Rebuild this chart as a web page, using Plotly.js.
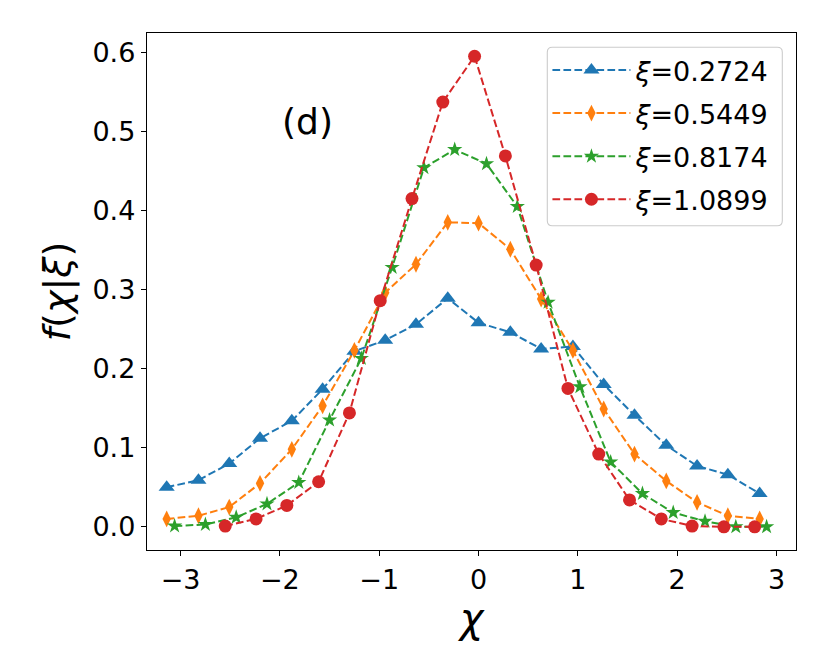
<!DOCTYPE html>
<html>
<head>
<meta charset="utf-8">
<script src="https://cdn.plot.ly/plotly-3.0.1.min.js"></script>
<style>html,body{margin:0;padding:0;background:#fff;}#chart{width:830px;height:664px;}</style>
</head>
<body>
<div id="chart"></div>
<script>
// series labels
const seriesNames = ['<i>ξ</i>=0.2724', '<i>ξ</i>=0.5449', '<i>ξ</i>=0.8174', '<i>ξ</i>=1.0899'];

// chi values (x) per series
const chiBlue   = [-3.14, -2.82, -2.51, -2.20, -1.88, -1.57, -1.25, -0.94, -0.63, -0.31, 0.00, 0.32, 0.63, 0.95, 1.26, 1.57, 1.89, 2.20, 2.51, 2.83];
const chiOrange = [-3.14, -2.82, -2.51, -2.20, -1.88, -1.57, -1.25, -0.94, -0.63, -0.31, 0.00, 0.32, 0.63, 0.95, 1.26, 1.57, 1.89, 2.20, 2.51, 2.83];
const chiGreen  = [-3.06, -2.75, -2.44, -2.13, -1.81, -1.50, -1.18, -0.87, -0.55, -0.24, 0.08, 0.39, 0.70, 1.02, 1.33, 1.65, 1.96, 2.28, 2.59, 2.90];
const chiRed    = [-2.55, -2.24, -1.93, -1.61, -1.30, -0.99, -0.67, -0.36, -0.04, 0.27, 0.58, 0.90, 1.21, 1.52, 1.84, 2.15, 2.47, 2.78];

// f(chi|xi) values per series
const fBlue   = [0.050, 0.059, 0.080, 0.112, 0.134, 0.174, 0.222, 0.236, 0.256, 0.289, 0.258, 0.246, 0.225, 0.228, 0.180, 0.141, 0.103, 0.077, 0.066, 0.042];
const fOrange = [0.010, 0.014, 0.025, 0.055, 0.098, 0.153, 0.223, 0.296, 0.332, 0.385, 0.384, 0.351, 0.288, 0.223, 0.149, 0.092, 0.058, 0.031, 0.014, 0.010];
const fGreen  = [0.001, 0.003, 0.012, 0.029, 0.056, 0.135, 0.213, 0.328, 0.454, 0.477, 0.459, 0.405, 0.284, 0.177, 0.082, 0.042, 0.018, 0.007, 0.000, 0.000];
const fRed    = [0.001, 0.010, 0.027, 0.057, 0.144, 0.286, 0.415, 0.537, 0.595, 0.469, 0.331, 0.175, 0.092, 0.034, 0.010, 0.001, 0.000, 0.000];

// axis ticks
const xTicks = [-3, -2, -1, 0, 1, 2, 3];
const yTicks = [0.0, 0.1, 0.2, 0.3, 0.4, 0.5, 0.6];
const yTickLabels = ['0.0', '0.1', '0.2', '0.3', '0.4', '0.5', '0.6'];

const colors = ['#1f77b4', '#ff7f0e', '#2ca02c', '#d62728'];
const symbols = ['triangle-up', 'diamond-tall', 'star', 'circle'];
const sizes = [14, 12, 11.5, 13];
const xs = [chiBlue, chiOrange, chiGreen, chiRed];
const ys = [fBlue, fOrange, fGreen, fRed];

const traces = xs.map((x, i) => ({
  x: x, y: ys[i], name: seriesNames[i], type: 'scatter', mode: 'lines+markers',
  legendgroup: 'g' + i,
  line: {color: colors[i], width: 2, dash: '7.7px,3.3px'},
  marker: {color: colors[i], symbol: symbols[i], size: sizes[i], line: {width: 0}}
}));

// rounded legend frame (paper coordinates)
const W = 649, H = 517;
const bx0 = 0.6168, bx1 = 0.9789, by0 = 0.6273, by1 = 0.9723;
const rx = 5 / W, ry = 5 / H;
const framePath = `M${bx0 + rx},${by1} L${bx1 - rx},${by1} Q${bx1},${by1} ${bx1},${by1 - ry} ` +
  `L${bx1},${by0 + ry} Q${bx1},${by0} ${bx1 - rx},${by0} L${bx0 + rx},${by0} Q${bx0},${by0} ${bx0},${by0 + ry} ` +
  `L${bx0},${by1 - ry} Q${bx0},${by1} ${bx0 + rx},${by1} Z`;

const font = 'DejaVu Sans, sans-serif';
const layout = {
  width: 830, height: 664,
  margin: {l: 147, r: 34, t: 33, b: 114},
  paper_bgcolor: '#fff', plot_bgcolor: '#fff',
  font: {family: font, color: '#000'},
  showlegend: true,
  xaxis: {
    range: [-3.338, 3.196], tickvals: xTicks, ticks: 'outside', ticklen: 5, tickwidth: 1.2,
    tickcolor: '#000', showline: true, linecolor: '#000', linewidth: 1.2, mirror: true,
    showgrid: false, zeroline: false, tickfont: {size: 27, family: font},
    title: {text: '<i>χ</i>', font: {size: 40, family: font}, standoff: 8}
  },
  yaxis: {
    range: [-0.0293, 0.6244], tickvals: yTicks, ticktext: yTickLabels, ticks: 'outside', ticklen: 5, tickwidth: 1.2,
    tickcolor: '#000', showline: true, linecolor: '#000', linewidth: 1.2, mirror: true,
    showgrid: false, zeroline: false, tickfont: {size: 27, family: font},
    title: {text: '<i>f</i>(<i>χ</i>|<i>ξ</i>)', font: {size: 38, family: font}, standoff: 10}
  },
  legend: {
    x: 0.617, y: 0.975, xanchor: 'left', yanchor: 'top',
    bgcolor: 'rgba(0,0,0,0)', bordercolor: 'rgba(0,0,0,0)', borderwidth: 0,
    font: {size: 27, family: font}, itemwidth: 78, tracegroupgap: 5,
    itemsizing: 'trace'
  },
  shapes: [{
    type: 'path', xref: 'paper', yref: 'paper', path: framePath, layer: 'above',
    fillcolor: 'rgba(255,255,255,0.8)', line: {color: '#cccccc', width: 1.1}
  }],
  annotations: [{
    x: -1.725, y: 0.5125, xref: 'x', yref: 'y', text: '(d)', showarrow: false,
    font: {size: 36, family: font, color: '#000'}
  }]
};

Plotly.newPlot('chart', traces, layout, {displayModeBar: false, staticPlot: true});
</script>
</body>
</html>
